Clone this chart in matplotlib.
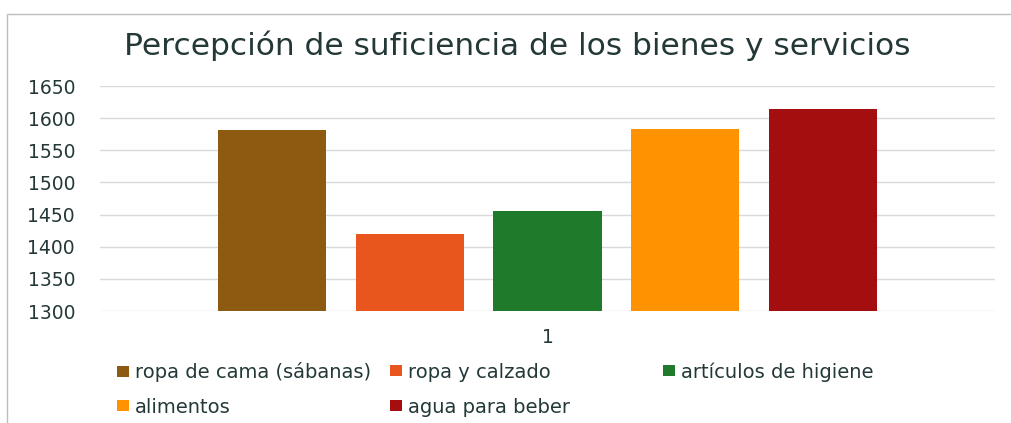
import matplotlib.pyplot as plt
from matplotlib.patches import Rectangle

# datos
series = ["ropa de cama (sábanas)", "ropa y calzado", "artículos de higiene",
          "alimentos", "agua para beber"]
values = [1582, 1420, 1456, 1583, 1614]
colors = ["#8C5A10", "#E8561E", "#1F7A2C", "#FF9200", "#A50E0E"]
category = "1"
yticks = [1300, 1350, 1400, 1450, 1500, 1550, 1600, 1650]

plt.rcParams['font.family'] = ['DejaVu Sans']
txt = "#243838"

fig = plt.figure(figsize=(10.11, 4.23), dpi=100)
ax = fig.add_axes([100 / 1011, 1 - 311 / 423, 895 / 1011, 225 / 423])

handles = []
for i, (name, v, c) in enumerate(zip(series, values, colors)):
    b = ax.bar(i - 2, v - yticks[0], bottom=yticks[0], width=0.785, color=c, label=name)
    handles.append(b)

ax.set_xlim(-3.25, 3.25)
ax.set_ylim(yticks[0], yticks[-1])
ax.set_yticks(yticks)
ax.set_xticks([0])
ax.set_xticklabels([category])
ax.tick_params(length=0, labelsize=13.5, colors=txt)
ax.tick_params(axis='x', pad=12)
ax.tick_params(axis='y', pad=18)
ax.grid(axis='y', color="#D9D9D9", lw=1)
ax.set_axisbelow(True)
for s in ax.spines.values():
    s.set_visible(False)

fig.text(517 / 1011, 1 - 46 / 423, "Percepción de suficiencia de los bienes y servicios",
         ha='center', va='center', fontsize=22.5, color=txt)

# leyenda, repartida como en el original
pos = [(117, 372), (390, 372), (663, 372), (117, 407), (390, 407)]
for h, (px, py) in zip(handles, pos):
    fig.legend(handles=[h], loc='center left', bbox_to_anchor=(px / 1011, 1 - py / 423),
               frameon=False, fontsize=14, handlelength=0.62, handleheight=0.5,
               handletextpad=0.3, borderaxespad=0, borderpad=0, labelcolor=txt)

# marco del grafico
fig.patches.append(Rectangle((7 / 1011, -0.1), 1.2, 1 - 14 / 423 + 0.1,
                             transform=fig.transFigure, fill=False,
                             edgecolor="#BDBDBD", lw=1))

fig.savefig("out.png", dpi=100)
